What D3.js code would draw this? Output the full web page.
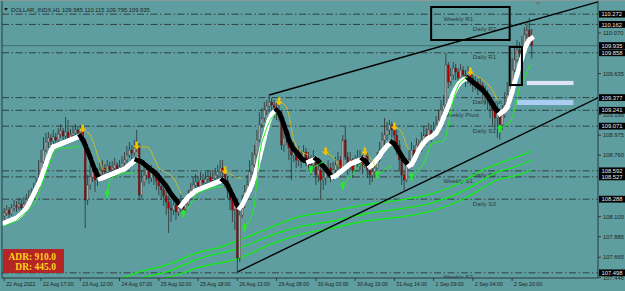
<!DOCTYPE html>
<html>
<head>
<meta charset="utf-8">
<script src="https://cdn.jsdelivr.net/npm/d3@7"></script>
<style>
  body { margin: 0; background: #5f9ea0; }
  svg { display: block; }
</style>
</head>
<body>
<div id="wrapper"></div>
<script>
// hourly candles, bar 0 = 22 Aug 2022; open of each bar = previous close
const firstOpen = 108.108;
const closes = [
  108.140,108.172,108.129,108.193,108.215,108.204,108.236,108.193,108.247,108.279,
  108.301,108.333,108.387,108.429,108.515,108.687,108.815,108.901,108.944,108.912,
  108.955,108.923,108.987,109.019,108.966,109.008,108.944,108.976,108.998,109.030,
  108.998,109.041,108.923,108.279,108.440,108.526,108.580,108.494,108.537,108.601,
  108.622,108.580,108.644,108.601,108.622,108.655,108.601,108.633,108.676,108.708,
  108.762,108.815,108.783,108.837,108.869,108.333,108.472,108.547,108.601,108.515,
  108.580,108.537,108.483,108.429,108.387,108.322,108.258,108.193,108.172,108.226,
  108.151,108.193,108.258,108.172,108.236,108.311,108.387,108.440,108.472,108.429,
  108.494,108.462,108.504,108.526,108.483,108.515,108.547,108.580,108.622,108.580,
  108.494,108.387,108.279,108.172,108.226,107.657,108.118,108.226,108.365,108.440,
  108.580,108.655,108.762,108.923,109.084,109.159,109.244,109.287,109.330,109.298,
  109.266,109.223,109.212,108.869,108.944,108.976,108.837,108.762,108.815,108.708,
  108.762,108.708,108.794,108.730,108.687,108.655,108.730,108.547,108.601,108.494,
  108.515,108.580,108.622,108.547,108.601,108.655,108.708,108.622,108.923,108.740,
  108.655,108.708,108.601,108.687,108.730,108.708,108.655,108.762,108.601,108.547,
  108.580,108.622,108.708,108.815,108.923,108.976,109.030,109.084,109.030,108.976,
  108.869,108.708,108.547,108.494,108.655,108.708,108.815,108.762,108.869,108.815,
  108.923,108.976,108.944,109.030,108.976,109.030,109.084,109.137,109.244,109.298,
  109.727,109.545,109.620,109.695,109.652,109.588,109.673,109.620,109.566,109.652,
  109.588,109.512,109.545,109.480,109.512,109.437,109.405,109.352,109.298,109.244,
  109.159,109.223,109.084,109.191,109.298,109.405,109.512,109.673,109.781,109.888,
  109.856,109.941,110.049,110.102,109.985,109.935
];
const highs = [
  108.193,108.226,108.204,108.236,108.279,108.268,108.301,108.279,108.311,108.344,
  108.387,108.408,108.462,108.515,108.708,108.815,108.955,108.998,109.008,108.987,
  109.030,108.998,109.051,109.094,109.051,109.169,109.137,109.041,109.062,109.094,
  109.073,109.084,109.084,108.944,108.547,108.655,108.676,108.622,108.622,108.687,
  108.708,108.665,108.708,108.687,108.698,108.730,108.687,108.708,108.751,108.794,
  108.858,108.901,108.869,108.923,109.030,108.891,108.601,108.644,108.676,108.622,
  108.655,108.622,108.580,108.537,108.494,108.429,108.387,108.322,108.279,108.311,
  108.279,108.279,108.333,108.301,108.322,108.387,108.462,108.526,108.558,108.537,
  108.580,108.558,108.580,108.601,108.580,108.601,108.622,108.655,108.708,108.708,
  108.601,108.537,108.429,108.322,108.333,108.258,108.226,108.333,108.440,108.547,
  108.708,108.794,108.869,109.030,109.223,109.266,109.330,109.352,109.416,109.373,
  109.352,109.320,109.298,109.244,109.030,109.084,109.008,108.880,108.901,108.837,
  108.858,108.815,108.869,108.837,108.794,108.762,108.815,108.751,108.687,108.655,
  108.622,108.655,108.708,108.676,108.687,108.740,108.794,108.751,108.976,109.062,
  108.794,108.794,108.730,108.762,108.815,108.815,108.762,108.837,108.794,108.655,
  108.665,108.708,108.794,108.901,109.008,109.159,109.116,109.137,109.116,109.073,
  109.030,108.923,108.762,108.601,108.730,108.815,108.901,108.869,108.944,108.923,
  109.008,109.073,109.051,109.105,109.084,109.116,109.180,109.244,109.352,109.405,
  109.856,109.759,109.695,109.759,109.738,109.695,109.738,109.716,109.673,109.716,
  109.695,109.630,109.609,109.577,109.588,109.545,109.502,109.459,109.405,109.352,
  109.309,109.309,109.266,109.298,109.437,109.545,109.652,109.802,109.909,109.995,
  109.974,110.038,110.134,110.188,110.231,110.115
];
const lows = [
  108.043,108.108,108.086,108.108,108.161,108.151,108.172,108.140,108.172,108.215,
  108.236,108.279,108.311,108.354,108.387,108.494,108.655,108.794,108.837,108.848,
  108.869,108.858,108.901,108.944,108.923,108.933,108.901,108.891,108.923,108.955,
  108.933,108.966,108.880,107.979,108.226,108.387,108.472,108.365,108.429,108.494,
  108.537,108.515,108.547,108.537,108.558,108.580,108.537,108.569,108.601,108.633,
  108.676,108.730,108.708,108.751,108.794,108.279,108.301,108.429,108.494,108.451,
  108.472,108.440,108.387,108.333,108.279,108.215,108.118,107.925,108.043,108.118,
  108.065,108.108,108.151,108.108,108.151,108.215,108.279,108.344,108.387,108.365,
  108.408,108.387,108.419,108.440,108.408,108.440,108.472,108.494,108.537,108.515,
  108.408,108.301,108.172,108.043,107.957,107.507,107.614,108.086,108.193,108.333,
  108.408,108.547,108.622,108.730,108.901,109.051,109.116,109.191,109.223,109.201,
  109.159,109.137,109.116,108.815,108.794,108.869,108.708,108.494,108.687,108.622,
  108.644,108.622,108.676,108.644,108.601,108.547,108.601,108.440,108.472,108.279,
  108.387,108.440,108.515,108.472,108.494,108.547,108.601,108.537,108.601,108.708,
  108.547,108.601,108.515,108.580,108.622,108.601,108.558,108.622,108.515,108.440,
  108.472,108.515,108.601,108.687,108.794,108.869,108.923,108.976,108.944,108.901,
  108.762,108.601,108.440,108.365,108.472,108.601,108.687,108.676,108.730,108.751,
  108.794,108.869,108.869,108.923,108.901,108.944,108.987,109.051,109.116,109.191,
  109.223,109.480,109.502,109.566,109.566,109.512,109.545,109.545,109.491,109.523,
  109.502,109.437,109.459,109.405,109.437,109.352,109.309,109.244,109.159,109.084,
  109.030,108.944,108.923,109.030,109.159,109.266,109.373,109.480,109.652,109.759,
  109.802,109.834,109.909,109.995,109.941,109.795
];

// thick moving average (white when rising, black when falling)
const maLine = [
  108.033,108.043,108.054,108.065,108.075,108.086,108.108,108.129,108.161,108.193,
  108.236,108.290,108.344,108.397,108.451,108.515,108.590,108.665,108.740,108.805,
  108.848,108.858,108.869,108.880,108.891,108.901,108.912,108.923,108.933,108.944,
  108.955,108.966,
  108.923,108.869,108.805,108.740,108.665,108.601,108.547,108.504,
  108.515,108.526,108.537,108.547,108.558,108.569,108.580,108.590,108.601,108.612,
  108.633,108.655,108.676,108.698,108.708,
  108.698,108.687,108.665,108.644,108.622,108.601,108.580,108.558,108.526,108.494,
  108.462,108.429,108.387,108.344,108.311,108.279,108.247,108.215,
  108.247,108.279,108.311,108.333,108.354,108.376,108.387,108.397,108.408,108.419,
  108.429,108.440,108.451,108.462,108.472,108.483,108.494,
  108.472,108.440,108.387,108.333,108.279,108.226,108.193,
  108.226,108.279,108.333,108.387,108.451,108.526,108.622,108.730,108.837,108.944,
  109.051,109.137,109.191,109.223,109.244,
  109.212,109.159,109.084,109.008,108.923,108.869,108.826,108.794,108.762,108.730,
  108.708,108.698,108.687,
  108.698,108.708,108.719,
  108.698,108.665,108.644,108.612,108.580,108.547,108.526,
  108.537,108.558,108.580,108.601,108.622,108.644,108.665,108.676,108.687,108.698,
  108.708,108.719,
  108.698,108.665,108.633,
  108.655,108.687,108.719,108.751,108.794,108.826,108.858,108.880,108.901,
  108.880,108.837,108.794,108.751,108.708,108.676,108.644,
  108.665,108.708,108.762,108.815,108.858,108.891,108.923,108.944,108.955,108.976,
  108.998,109.041,109.094,109.159,109.223,109.287,109.352,109.416,109.470,109.512,
  109.545,109.566,109.577,109.588,
  109.566,109.545,109.523,109.502,109.480,109.459,109.427,109.394,109.352,109.309,
  109.266,109.234,109.201,
  109.223,109.244,109.277,109.352,109.437,109.534,109.620,109.716,109.802,109.888,
  109.952,109.995,110.016
];

// trailing stop runs: [first bar, values]
const stopUp = [
  [0, [108.000,108.011,108.022,108.033,108.043,108.054,108.086,108.108,108.129,108.151,
       108.172,108.204,108.236,108.279,108.354,108.419,108.494,108.558,108.633,108.708,
       108.783,108.815,108.837,108.837,108.837,108.837,108.837,108.837,108.848,108.848,
       108.848,108.848]],
  [42, [108.365,108.494,108.515,108.526,108.537,108.558,108.569,108.569,108.569,108.569,108.569,108.569]],
  [73, [108.151,108.161,108.193,108.236,108.279,108.333,108.354,108.365,108.376,108.387,
        108.397,108.408,108.408,108.419,108.419,108.419,108.419]],
  [98, [108.000,108.022,108.043,108.118,108.226,108.494,108.762,108.901,108.976,109.051,
        109.116,109.159,109.191,109.212]],
  [125, [108.622,108.633,108.644,108.655,108.676,108.687]],
  [138, [108.451,108.472,108.494,108.526,108.558,108.601,108.633,108.655,108.676]],
  [152, [108.569,108.569,108.580,108.601,108.622,108.633,108.644]],
  [166, [108.547,108.558,108.580,108.601,108.633,108.676,108.730,108.815,108.880,108.891,
         108.901,108.901,108.901,108.912,108.955,109.084,109.223,109.352,109.437,109.502,
         109.545,109.566,109.588,109.598]],
  [202, [109.062,109.062,109.073,109.084,109.105,109.159,109.244,109.352,109.480,109.545,
         109.588,109.652,109.705,109.738]]
];
const stopDown = [
  [32, [109.030,109.019,109.008,108.976,108.923,108.848,108.762,108.687,108.622,108.601]],
  [54, [108.848,108.848,108.848,108.848,108.848,108.837,108.794,108.730,108.676,108.622,
        108.601,108.590,108.580,108.558,108.547,108.515,108.472,108.408,108.354]],
  [90, [108.580,108.569,108.558,108.547,108.526,108.515,108.515,108.515]],
  [112, [109.320,109.320,109.309,109.277,109.191,109.051,108.923,108.858,108.826,108.805,
         108.783,108.773,108.762]],
  [131, [108.783,108.773,108.762,108.740,108.708,108.655,108.633]],
  [147, [108.783,108.762,108.740,108.708,108.644]],
  [159, [109.051,109.051,109.041,109.008,108.944,108.858,108.815]],
  [190, [109.641,109.630,109.620,109.598,109.588,109.566,109.545,109.523,109.491,109.459,
         109.405,109.352]]
];

// three green channel lines: [bar, price]
const bandTop = [[46,107.421],[55,107.507],[66,107.582],[80,107.722],[88,107.775],[96,107.850],
  [108,107.979],[120,108.097],[134,108.161],[147,108.226],[161,108.279],[174,108.344],
  [181,108.408],[188,108.494],[195,108.601],[201,108.665],[208,108.730],[215,108.805]];
const bandMid = [[51,107.411],[59,107.464],[66,107.507],[80,107.657],[96,107.765],[108,107.893],
  [120,107.990],[134,108.054],[147,108.129],[161,108.183],[174,108.247],[188,108.387],
  [195,108.494],[201,108.580],[208,108.633],[215,108.708]];
const bandLow = [[57,107.411],[66,107.443],[80,107.561],[96,107.657],[108,107.797],[120,107.904],
  [134,107.979],[147,108.054],[161,108.097],[174,108.161],[188,108.301],[195,108.408],
  [201,108.494],[208,108.537],[215,108.601]];

// trend lines (rays to the right): [bar, price] pairs
const upperTrend = [[108, 109.405], [215, 110.203]];
const lowerTrend = [[95, 107.507], [215, 109.032]];

// pivot levels
const levelValues = [110.272, 110.162, 109.858, 109.377, 109.241, 109.071, 108.592, 108.527, 108.288, 107.498];
const levelNames = ["Weekly R1", "Daily R2", "Daily R1", "Daily Pivot", "Weekly Pivot", "Daily S1", "Daily S2", "Weekly S1", "Daily S3", "Weekly S2"];
const lastPrice = 109.935;

// drawn boxes and zones: [bar from, bar to, price top, price bottom]
const boxes = [[174, 206, 110.349, 109.995], [206, 211, 109.920, 109.512]];
const zones = [[213, 232, 109.556, 109.512, "#dfe3f7"], [209, 232, 109.352, 109.298, "#abcdf1"]];

// scale labels still visible next to the level tags
const priceTicks = [110.070, 109.635, 109.195, 108.975, 108.760, 108.100, 107.885, 107.665, 107.446];
const timeTickBars = [0, 15, 31, 47, 63, 79, 95, 111, 127, 143, 159, 175, 191, 207];
const timeTickLabels = ["22 Aug 2022", "22 Aug 17:00", "23 Aug 12:00", "24 Aug 07:00", "25 Aug 02:00", "25 Aug 18:00", "26 Aug 13:00", "29 Aug 08:00", "30 Aug 03:00", "30 Aug 19:00", "31 Aug 14:00", "1 Sep 09:00", "2 Sep 04:00", "2 Sep 20:00"];

const drawChart = () => {
  const width = 625, height = 291;
  const plot = { left: 2, right: 598, top: 1, bottom: 278 };
  const font = "'Liberation Sans', Arial, sans-serif";

  const svg = d3.select("#wrapper").append("svg")
    .attr("width", width)
    .attr("height", height);

  svg.append("rect").attr("width", width).attr("height", height).attr("fill", "#5f9ea0");

  const x = d3.scaleLinear().domain([-0.5, 242]).range([3, 598]);
  const y = d3.scaleLinear().domain([107.446, 110.070]).range([277.7, 33]);

  svg.append("clipPath").attr("id", "plotclip")
    .append("rect")
      .attr("x", plot.left).attr("y", plot.top)
      .attr("width", plot.right - plot.left).attr("height", plot.bottom - plot.top);

  const g = svg.append("g").attr("clip-path", "url(#plotclip)");

  // pivot lines + names
  g.selectAll(".lvl").data(levelValues).join("line")
    .attr("x1", plot.left).attr("x2", plot.right)
    .attr("y1", d => y(d)).attr("y2", d => y(d))
    .attr("stroke", "#2b3535").attr("stroke-width", 0.9)
    .attr("stroke-dasharray", "7,2.5,1.5,2.5");

  g.selectAll(".lvlname").data(levelNames).join("text")
    .attr("x", d => x(d.startsWith("Weekly") ? 179 : 191))
    .attr("y", (d, i) => y(levelValues[i]) + 6.5)
    .attr("font-family", font).attr("font-size", 6.2)
    .attr("fill", "#2e3a3a")
    .text(d => d);

  // last price line
  g.append("line")
    .attr("x1", plot.left).attr("x2", plot.right)
    .attr("y1", y(lastPrice)).attr("y2", y(lastPrice))
    .attr("stroke", "#46787a").attr("stroke-width", 1.2);

  // zones
  g.selectAll(".zone").data(zones).join("rect")
    .attr("x", d => x(d[0])).attr("width", d => x(d[1]) - x(d[0]))
    .attr("y", d => y(d[2])).attr("height", d => y(d[3]) - y(d[2]))
    .attr("fill", d => d[4]);

  // green channel
  const bandLine = d3.line().x(d => x(d[0])).y(d => y(d[1])).curve(d3.curveMonotoneX);
  [bandTop, bandMid, bandLow].forEach(b => {
    g.append("path").attr("d", bandLine(b))
      .attr("fill", "none").attr("stroke", "#11ee11").attr("stroke-width", 1.3);
  });

  // trend rays
  [upperTrend, lowerTrend].forEach(t => {
    const slope = (t[1][1] - t[0][1]) / (t[1][0] - t[0][0]);
    const endBar = 242;
    g.append("line")
      .attr("x1", x(t[0][0])).attr("y1", y(t[0][1]))
      .attr("x2", x(endBar)).attr("y2", y(t[0][1] + slope * (endBar - t[0][0])))
      .attr("stroke", "#000").attr("stroke-width", 1.4);
  });

  // candles
  const bars = closes.map((c, i) => ({
    i, o: i ? closes[i - 1] : firstOpen, h: highs[i], l: lows[i], c
  }));
  const candle = g.append("g").selectAll("g").data(bars).join("g");
  candle.append("line")
    .attr("x1", d => x(d.i)).attr("x2", d => x(d.i))
    .attr("y1", d => y(Math.max(d.h, d.o, d.c)))
    .attr("y2", d => y(Math.min(d.l, d.o, d.c)))
    .attr("stroke", "#2e2e2e").attr("stroke-width", 0.8);
  candle.append("rect")
    .attr("x", d => x(d.i) - 0.95).attr("width", 1.9)
    .attr("y", d => y(Math.max(d.o, d.c)))
    .attr("height", d => Math.max(0.8, Math.abs(y(d.o) - y(d.c))))
    .attr("fill", d => d.c >= d.o ? "#a9a9a9" : "#a80000")
    .attr("stroke", "#333").attr("stroke-width", 0.35);

  // thick MA, coloured by direction
  let up = true;
  const maSegs = [];
  for (let i = 1; i < maLine.length; i++) {
    if (maLine[i] > maLine[i - 1]) up = true;
    else if (maLine[i] < maLine[i - 1]) up = false;
    maSegs.push({ a: i - 1, b: i, up });
  }
  g.append("g").selectAll("line").data(maSegs).join("line")
    .attr("x1", d => x(d.a)).attr("y1", d => y(maLine[d.a]))
    .attr("x2", d => x(d.b)).attr("y2", d => y(maLine[d.b]))
    .attr("stroke", d => d.up ? "#ffffff" : "#000000")
    .attr("stroke-width", 4.6)
    .attr("stroke-linecap", "square");

  // trailing stop lines
  const runLine = d3.line().x(d => x(d[0])).y(d => y(d[1]));
  const toPts = run => run[1].map((v, k) => [run[0] + k, v]);
  stopUp.forEach(run => {
    g.append("path").attr("d", runLine(toPts(run)))
      .attr("fill", "none").attr("stroke", "#22ee22").attr("stroke-width", 1);
  });
  stopDown.forEach(run => {
    g.append("path").attr("d", runLine(toPts(run)))
      .attr("fill", "none").attr("stroke", "#f0c400").attr("stroke-width", 1)
      .attr("stroke-dasharray", "1.6,0.6");
  });

  // arrows at each switch
  const downArrow = "M-1.3,-4.5 L1.3,-4.5 L1.3,-0.5 L3.6,-0.5 L0,3.5 L-3.6,-0.5 L-1.3,-0.5 Z";
  const upArrow = "M-1.1,4.5 L1.1,4.5 L1.1,0.5 L3,0.5 L0,-3.8 L-3,0.5 L-1.1,0.5 Z";
  g.selectAll(".dn").data(stopDown).join("path")
    .attr("d", downArrow)
    .attr("transform", d => `translate(${x(d[0])},${y(d[1][0]) - 1})`)
    .attr("fill", "#f2c200");
  g.selectAll(".up").data(stopUp.slice(1)).join("path")
    .attr("d", upArrow)
    .attr("transform", d => `translate(${x(d[0])},${y(d[1][0]) + 1})`)
    .attr("fill", "#22ee22");

  // drawn rectangles
  g.selectAll(".box").data(boxes).join("rect")
    .attr("x", d => x(d[0])).attr("width", d => x(d[1]) - x(d[0]))
    .attr("y", d => y(d[2])).attr("height", d => y(d[3]) - y(d[2]))
    .attr("fill", "none").attr("stroke", "#000").attr("stroke-width", 2);

  // frame
  svg.append("line").attr("x1", 0).attr("x2", width).attr("y1", 0.5).attr("y2", 0.5)
    .attr("stroke", "#8a9a9a").attr("stroke-width", 1);
  svg.append("line").attr("x1", plot.left).attr("x2", plot.left).attr("y1", plot.top).attr("y2", plot.bottom)
    .attr("stroke", "#2a3a3a").attr("stroke-width", 1);
  svg.append("line").attr("x1", plot.right).attr("x2", plot.right).attr("y1", plot.top).attr("y2", plot.bottom)
    .attr("stroke", "#2a3a3a").attr("stroke-width", 1);
  svg.append("line").attr("x1", plot.left).attr("x2", plot.right).attr("y1", plot.bottom).attr("y2", plot.bottom)
    .attr("stroke", "#2a3a3a").attr("stroke-width", 1);

  // price axis
  const pa = svg.append("g");
  pa.selectAll("line").data(priceTicks).join("line")
    .attr("x1", plot.right).attr("x2", plot.right + 3)
    .attr("y1", d => y(d)).attr("y2", d => y(d))
    .attr("stroke", "#222").attr("stroke-width", 0.8);
  pa.selectAll("text").data(priceTicks).join("text")
    .attr("x", plot.right + 5).attr("y", d => y(d) + 2)
    .attr("font-family", font).attr("font-size", 5.8).attr("fill", "#1c2424")
    .text(d => d.toFixed(3));

  const tags = levelValues.concat([lastPrice]);
  const tag = svg.append("g").selectAll("g").data(tags).join("g")
    .attr("transform", d => `translate(${plot.right + 1},${y(d)})`);
  tag.append("rect").attr("x", 0).attr("y", -3.4).attr("width", 27).attr("height", 6.8).attr("fill", "#000");
  tag.append("text").attr("x", 2.5).attr("y", 2.1)
    .attr("font-family", font).attr("font-size", 5.8).attr("fill", "#e8e8e8")
    .text(d => d.toFixed(3));

  // time axis
  const ta = svg.append("g");
  ta.selectAll("line").data(timeTickBars).join("line")
    .attr("x1", d => x(d)).attr("x2", d => x(d))
    .attr("y1", plot.bottom).attr("y2", plot.bottom + 3)
    .attr("stroke", "#222").attr("stroke-width", 0.8);
  ta.selectAll("text").data(timeTickLabels).join("text")
    .attr("x", (d, i) => x(timeTickBars[i]) + 2).attr("y", 286)
    .attr("font-family", font).attr("font-size", 5.2).attr("fill", "#1c2424")
    .text(d => d);

  // title
  svg.append("path").attr("d", "M4,8 L8,8 L6,11 Z").attr("fill", "#1c2424");
  svg.append("text").attr("x", 11).attr("y", 11.5)
    .attr("font-family", font).attr("font-size", 5.8).attr("fill", "#1c2424")
    .text("DOLLAR_INDX,H1  109.985 110.115 109.795 109.935");
  svg.append("path").attr("d", "M535,2 L541,2 L538,5.5 Z").attr("fill", "#6f7f7f");

  // ADR badge
  svg.append("rect").attr("x", 3).attr("y", 249).attr("width", 61).attr("height", 24).attr("fill", "#b52525");
  svg.append("text").attr("x", 56).attr("y", 259.5).attr("text-anchor", "end")
    .attr("font-family", "'Liberation Serif', serif").attr("font-weight", "bold")
    .attr("font-size", 9.5).attr("fill", "#ffd21a").text("ADR: 910.0");
  svg.append("text").attr("x", 56).attr("y", 270).attr("text-anchor", "end")
    .attr("font-family", "'Liberation Serif', serif").attr("font-weight", "bold")
    .attr("font-size", 9.5).attr("fill", "#ffd21a").text("DR: 445.0");
};

drawChart();
</script>
</body>
</html>
